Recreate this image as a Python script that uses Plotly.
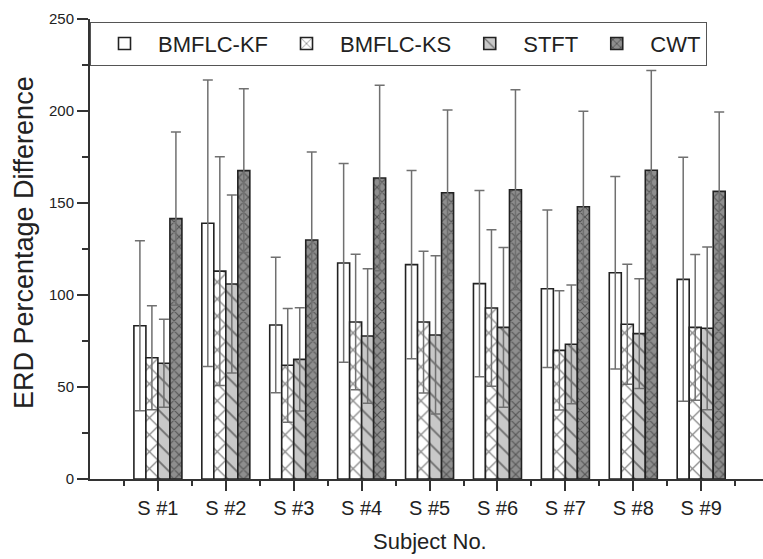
import plotly.graph_objects as go

subjects = ["S #1", "S #2", "S #3", "S #4", "S #5", "S #6", "S #7", "S #8", "S #9"]
series_names = ["BMFLC-KF", "BMFLC-KS", "STFT", "CWT"]

kf = [83.3, 139.0, 83.7, 117.4, 116.5, 106.2, 103.4, 112.1, 108.5]
kf_err = [46.2, 77.8, 36.8, 54.0, 51.2, 50.6, 42.8, 52.3, 66.3]
ks = [65.9, 113.0, 61.8, 85.3, 85.3, 92.9, 69.9, 84.1, 82.4]
ks_err = [28.2, 62.2, 30.9, 36.8, 38.5, 42.5, 32.4, 32.6, 39.6]
stft = [62.9, 106.0, 65.0, 77.7, 78.3, 82.4, 73.2, 79.0, 81.9]
stft_err = [23.9, 48.4, 28.1, 36.5, 43.0, 43.4, 32.3, 29.8, 44.2]
cwt = [141.5, 167.6, 129.9, 163.6, 155.6, 157.2, 148.0, 167.8, 156.3]
cwt_err = [47.1, 44.5, 47.8, 50.4, 45.0, 54.3, 51.8, 54.2, 43.2]

FONT = "Liberation Sans, Arial, Helvetica, sans-serif"
x = list(range(len(subjects)))

styles = [
    dict(color="#ffffff", pattern=dict(shape="")),
    dict(color="#ffffff", pattern=dict(shape="x", fgcolor="#111111", size=12, solidity=0.2)),
    dict(color="#c8c8c8", pattern=dict(shape="\\", fgcolor="#111111", size=12, solidity=0.15)),
    dict(color="#8e8e8e", pattern=dict(shape="x", fgcolor="#1a1a1a", size=7, solidity=0.3)),
]
values = [kf, ks, stft, cwt]
errors = [kf_err, ks_err, stft_err, cwt_err]

fig = go.Figure()
for name, vals, errs, st in zip(series_names, values, errors, styles):
    fig.add_trace(go.Bar(
        x=x, y=vals, name=name,
        marker=dict(color=st["color"], pattern=st["pattern"],
                    line=dict(color="#222222", width=1.6)),
        error_y=dict(type="data", array=errs, visible=True,
                     color="#707070", thickness=1.5, width=5),
    ))

minor_x = [i - 0.5 for i in x] + [x[-1] + 0.5]

fig.update_layout(
    width=763, height=559,
    margin=dict(l=90, r=0, t=19, b=80),
    paper_bgcolor="white", plot_bgcolor="white",
    barmode="group", bargap=0.293, bargroupgap=0,
    font=dict(family=FONT, color="#222222"),
    showlegend=True,
    legend=dict(orientation="h", x=0, y=0.994, xanchor="left", yanchor="top",
                bordercolor="#555555", borderwidth=1, bgcolor="white",
                font=dict(size=22, family=FONT, color="#222222"),
                itemwidth=57, tracegroupgap=0),
    xaxis=dict(range=[-1, 8.91], tickmode="array", tickvals=x, ticktext=subjects,
               ticks="outside", ticklen=10, tickwidth=1.5, tickcolor="#333333",
               minor=dict(tickmode="array", tickvals=minor_x, ticks="outside", ticklen=5,
                          tickwidth=1.5, tickcolor="#333333"),
               showline=True, linecolor="#333333", linewidth=2,
               showgrid=False, zeroline=False,
               tickfont=dict(size=20, family=FONT, color="#222222")),
    yaxis=dict(range=[0, 250], tick0=0, dtick=50,
               ticks="outside", ticklen=11, tickwidth=1.5, tickcolor="#333333",
               minor=dict(dtick=25, ticks="outside", ticklen=6, tickwidth=1.5,
                          tickcolor="#333333"),
               showline=True, linecolor="#333333", linewidth=2,
               showgrid=False, zeroline=False,
               tickfont=dict(size=15, family=FONT, color="#222222")),
    annotations=[
        dict(text="ERD Percentage Difference", xref="paper", yref="paper",
             x=0, y=0.513, xanchor="center", yanchor="middle", xshift=-66,
             textangle=-90, showarrow=False,
             font=dict(size=27, family=FONT, color="#222222")),
        dict(text="Subject No.", xref="paper", yref="paper",
             x=0.505, y=0, xanchor="center", yanchor="middle", yshift=-62,
             showarrow=False, font=dict(size=22, family=FONT, color="#222222")),
    ],
)

fig.write_html("out.html")
